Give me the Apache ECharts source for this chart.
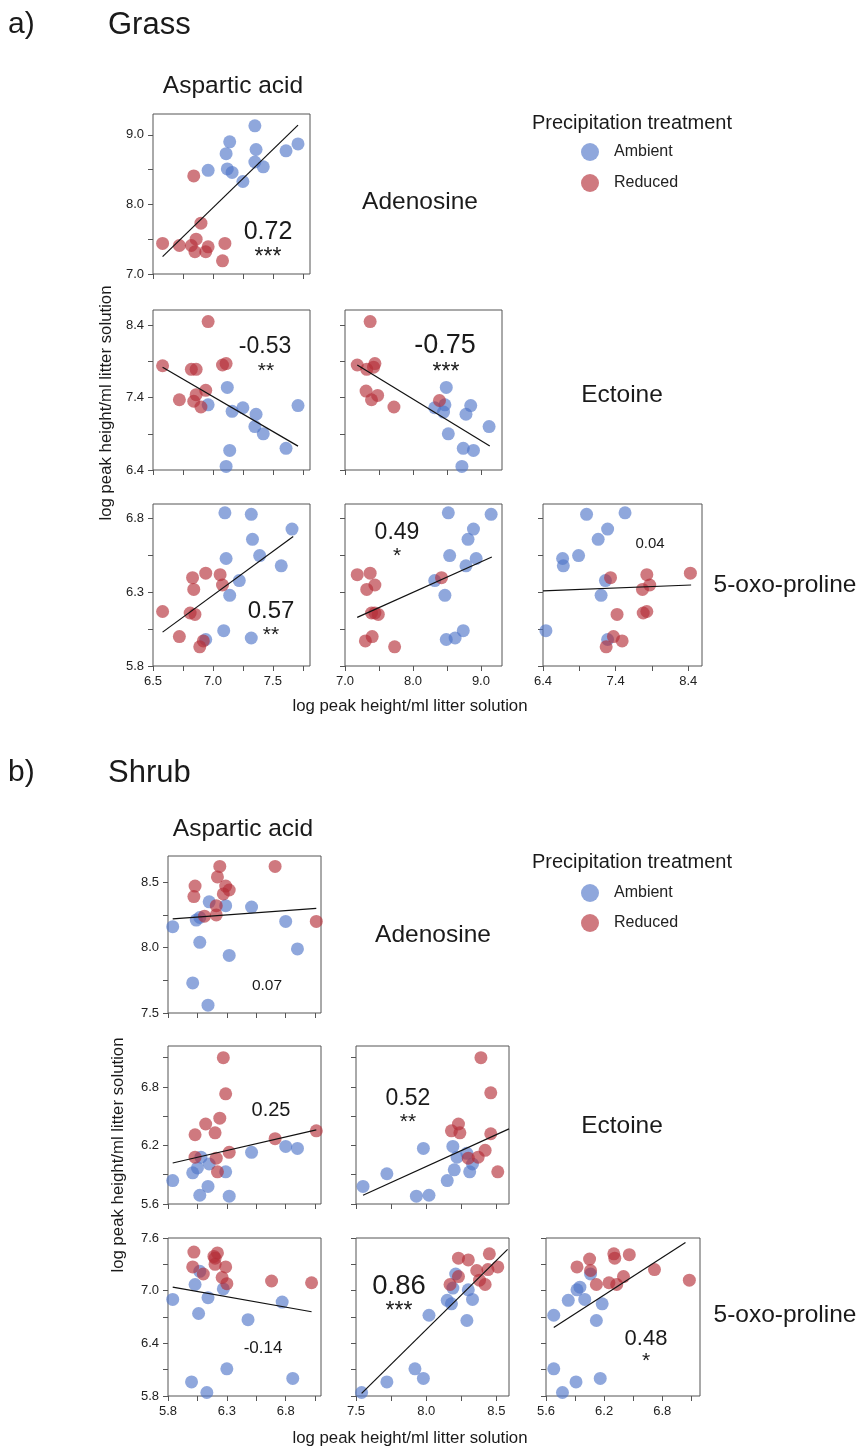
<!DOCTYPE html>
<html>
<head>
<meta charset="utf-8">
<title>Grass / Shrub metabolite correlations</title>
<script src="https://cdn.jsdelivr.net/npm/echarts@6/dist/echarts.min.js"></script>
</head>
<body style="margin:0">
<div id="chart" style="width:859px;height:1447px"></div>
<script>
// ---------- data: [x, y] per sample ----------
// Grass
var gAspAde_amb = [[7.35,9.13],[7.14,8.90],[7.11,8.73],[7.36,8.79],[7.61,8.77],[7.71,8.87],[6.96,8.49],[7.12,8.51],[7.16,8.46],[7.35,8.61],[7.42,8.54],[7.25,8.33]];
var gAspAde_red = [[6.84,8.41],[6.90,7.73],[6.58,7.44],[6.72,7.41],[6.82,7.41],[6.86,7.50],[6.85,7.32],[6.94,7.32],[6.96,7.39],[7.10,7.44],[7.08,7.19]];
var gAspEct_amb = [[6.96,7.30],[7.12,7.54],[7.16,7.21],[7.25,7.26],[7.36,7.17],[7.35,7.00],[7.42,6.90],[7.71,7.29],[7.61,6.70],[7.14,6.67],[7.11,6.45]];
var gAspEct_red = [[6.96,8.45],[6.58,7.84],[6.82,7.79],[6.86,7.79],[7.08,7.85],[7.11,7.87],[6.72,7.37],[6.84,7.35],[6.86,7.44],[6.94,7.50],[6.90,7.27]];
var gAdeEct_amb = [[8.49,7.54],[8.32,7.26],[8.47,7.30],[8.45,7.20],[8.85,7.29],[8.78,7.17],[9.12,7.00],[8.52,6.90],[8.74,6.70],[8.89,6.67],[8.72,6.45]];
var gAdeEct_red = [[7.37,8.45],[7.18,7.85],[7.32,7.79],[7.42,7.82],[7.44,7.87],[7.31,7.49],[7.39,7.37],[7.48,7.43],[7.72,7.27],[8.39,7.36]];
var gAspOxo_amb = [[7.10,6.84],[7.32,6.83],[7.66,6.73],[7.33,6.66],[7.39,6.55],[7.11,6.53],[7.57,6.48],[7.22,6.38],[7.14,6.28],[7.09,6.04],[7.32,5.99],[6.94,5.98]];
var gAspOxo_red = [[6.94,6.43],[6.83,6.40],[7.06,6.42],[7.08,6.35],[6.84,6.32],[6.58,6.17],[6.81,6.16],[6.85,6.15],[6.72,6.00],[6.92,5.97],[6.89,5.93]];
var gAdeOxo_amb = [[8.52,6.84],[9.15,6.83],[8.89,6.73],[8.81,6.66],[8.93,6.53],[8.54,6.55],[8.78,6.48],[8.32,6.38],[8.47,6.28],[8.74,6.04],[8.62,5.99],[8.49,5.98]];
var gAdeOxo_red = [[8.42,6.40],[7.18,6.42],[7.37,6.43],[7.44,6.35],[7.32,6.32],[7.39,6.16],[7.44,6.16],[7.49,6.15],[7.40,6.00],[7.30,5.97],[7.73,5.93]];
var gEctOxo_amb = [[7.00,6.83],[7.53,6.84],[7.29,6.73],[7.16,6.66],[6.89,6.55],[6.67,6.53],[6.68,6.48],[7.26,6.38],[7.20,6.28],[6.44,6.04],[7.29,5.98]];
var gEctOxo_red = [[7.33,6.40],[7.83,6.42],[8.43,6.43],[7.87,6.35],[7.77,6.32],[7.83,6.17],[7.78,6.16],[7.42,6.15],[7.37,6.00],[7.49,5.97],[7.27,5.93]];
// Shrub
var sAspAde_amb = [[6.15,8.35],[6.29,8.32],[6.51,8.31],[6.04,8.21],[6.07,8.23],[5.84,8.16],[6.80,8.20],[6.07,8.04],[6.90,7.99],[6.32,7.94],[6.01,7.73],[6.14,7.56]];
var sAspAde_red = [[6.24,8.62],[6.71,8.62],[6.03,8.47],[6.22,8.54],[6.02,8.39],[6.29,8.47],[6.32,8.44],[6.27,8.41],[6.21,8.32],[6.21,8.25],[6.11,8.24],[7.06,8.20]];
var sAspEct_amb = [[6.51,6.13],[6.80,6.19],[6.90,6.17],[6.08,6.08],[6.15,6.01],[6.05,5.97],[6.01,5.92],[6.29,5.93],[5.84,5.84],[6.14,5.78],[6.07,5.69],[6.32,5.68]];
var sAspEct_red = [[6.27,7.10],[6.29,6.73],[6.24,6.48],[6.12,6.42],[6.20,6.33],[6.03,6.31],[6.71,6.27],[7.06,6.35],[6.32,6.13],[6.21,6.07],[6.03,6.08],[6.22,5.93]];
var sAdeEct_amb = [[7.98,6.17],[8.19,6.19],[8.29,6.12],[8.22,6.08],[8.33,6.01],[8.20,5.95],[8.31,5.93],[7.72,5.91],[8.15,5.84],[7.55,5.78],[7.93,5.68],[8.02,5.69]];
var sAdeEct_red = [[8.39,7.10],[8.46,6.74],[8.23,6.42],[8.18,6.35],[8.24,6.33],[8.46,6.32],[8.42,6.15],[8.37,6.08],[8.30,6.07],[8.51,5.93]];
var sAspOxo_amb = [[6.07,7.22],[6.03,7.07],[6.27,7.02],[5.84,6.90],[6.14,6.92],[6.77,6.87],[6.06,6.74],[6.48,6.67],[6.30,6.11],[6.00,5.96],[6.86,6.00],[6.13,5.84]];
var sAspOxo_red = [[6.02,7.44],[6.22,7.43],[6.19,7.39],[6.20,7.37],[6.01,7.27],[6.20,7.30],[6.29,7.27],[6.10,7.19],[6.26,7.15],[6.30,7.08],[6.68,7.11],[7.02,7.09]];
var sAdeOxo_amb = [[8.21,7.19],[8.19,7.03],[8.30,7.01],[8.15,6.89],[8.18,6.85],[8.33,6.90],[8.29,6.66],[8.02,6.72],[7.92,6.11],[7.98,6.00],[7.72,5.96],[7.54,5.84]];
var sAdeOxo_red = [[8.45,7.42],[8.23,7.37],[8.30,7.35],[8.36,7.23],[8.44,7.24],[8.51,7.27],[8.23,7.16],[8.17,7.07],[8.38,7.12],[8.42,7.07]];
var sEctOxo_amb = [[6.06,7.19],[5.95,7.04],[5.92,7.01],[5.83,6.89],[6.00,6.90],[6.18,6.85],[5.68,6.72],[6.12,6.66],[5.68,6.11],[6.16,6.00],[5.91,5.96],[5.77,5.84]];
var sEctOxo_red = [[6.30,7.42],[6.46,7.41],[6.05,7.36],[6.31,7.37],[5.92,7.27],[6.06,7.23],[6.72,7.24],[6.40,7.16],[7.08,7.12],[6.25,7.09],[6.33,7.07],[6.12,7.07]];

// fitted lines (end points)
var fitGrass = [[[6.58,7.25],[7.71,9.14]], [[6.58,7.82],[7.71,6.73]], [[7.18,7.85],[9.13,6.73]],
                [[6.58,6.03],[7.67,6.68]], [[7.18,6.13],[9.16,6.54]], [[6.40,6.31],[8.44,6.35]]];
var fitShrub = [[[5.84,8.22],[7.06,8.30]], [[5.84,6.02],[7.06,6.36]], [[7.55,5.69],[8.59,6.37]],
                [[5.84,7.04],[7.02,6.76]], [[7.54,5.83],[8.58,7.47]], [[5.68,6.58],[7.04,7.55]]];

// correlation coefficients and significance
var rGrass = ['0.72', '-0.53', '-0.75', '0.57', '0.49', '0.04'];
var sigGrass = ['***', '**', '***', '**', '*', ''];
var rShrub = ['0.07', '0.25', '0.52', '-0.14', '0.86', '0.48'];
var sigShrub = ['', '', '**', '', '***', '*'];

var variables = ['Aspartic acid', 'Adenosine', 'Ectoine', '5-oxo-proline'];
var groups = ['Ambient', 'Reduced'];

// labelled ticks of each axis
var grassXTicks = [[6.5, 7.0, 7.5], [7.0, 8.0, 9.0], [6.4, 7.4, 8.4]];
var grassYTicks = [[7.0, 8.0, 9.0], [6.4, 7.4, 8.4], [5.8, 6.3, 6.8]];
var shrubXTicks = [[5.8, 6.3, 6.8], [7.5, 8.0, 8.5], [5.6, 6.2, 6.8]];
var shrubYTicks = [[7.5, 8.0, 8.5], [5.6, 6.2, 6.8], [5.8, 6.4, 7.0, 7.6]];

// ---------- layout ----------
var FONT = '"Liberation Sans", Arial, Helvetica, sans-serif';
var BLUE = 'rgba(80,118,200,0.8)';
var RED = 'rgba(180,45,55,0.8)';

var grassX = [{min: 6.5, max: 7.81, step: 0.25}, {min: 7.0, max: 9.31, step: 0.5}, {min: 6.4, max: 8.59, step: 0.5}];
var grassY = [{min: 7.0, max: 9.30, step: 0.5}, {min: 6.4, max: 8.61, step: 0.5}, {min: 5.8, max: 6.90, step: 0.25}];
var shrubX = [{min: 5.8, max: 7.10, step: 0.25}, {min: 7.5, max: 8.59, step: 0.25}, {min: 5.6, max: 7.19, step: 0.3}];
var shrubY = [{min: 7.5, max: 8.70, step: 0.25}, {min: 5.6, max: 7.22, step: 0.3}, {min: 5.8, max: 7.60, step: 0.3}];

var grassCols = [[153, 157], [345, 157], [543, 159]];
var grassRows = [[114, 160], [310, 160], [504, 162]];
var shrubCols = [[168, 153], [356, 153], [546, 154]];
var shrubRows = [[856, 157], [1046, 158], [1238, 158]];

// panel order: (row, col) lower triangle
var cells = [[0, 0], [1, 0], [1, 1], [2, 0], [2, 1], [2, 2]];

var grassPts = [[gAspAde_amb, gAspAde_red], [gAspEct_amb, gAspEct_red], [gAdeEct_amb, gAdeEct_red],
                [gAspOxo_amb, gAspOxo_red], [gAdeOxo_amb, gAdeOxo_red], [gEctOxo_amb, gEctOxo_red]];
var shrubPts = [[sAspAde_amb, sAspAde_red], [sAspEct_amb, sAspEct_red], [sAdeEct_amb, sAdeEct_red],
                [sAspOxo_amb, sAspOxo_red], [sAdeOxo_amb, sAdeOxo_red], [sEctOxo_amb, sEctOxo_red]];

// where the r text goes (px) and its size
var grassRText = [[268, 232, 25], [265, 347, 23], [445, 346, 27], [271, 611, 24], [397, 533, 23], [650, 544, 15]];
var grassStar = [[268, 258, 23], [266, 371, 21], [446, 373, 23], [271, 635, 21], [397, 556, 21], null];
var shrubRText = [[267, 986, 15.5], [271, 1110, 20], [408, 1099, 23], [263, 1348, 17], [399, 1286, 27.5], [646, 1339, 22]];
var shrubStar = [null, null, [408, 1122, 21], null, [399, 1312, 23], [646, 1361, 21]];

var grids = [], xAxes = [], yAxes = [], series = [], graphics = [];

// tick positions every `step` from min, without the extra tick ECharts puts at max
function tickValues(sc) {
  var out = [];
  for (var i = 0; sc.min + i * sc.step <= sc.max + 1e-9; i++) {
    out.push(Math.round((sc.min + i * sc.step) * 1000) / 1000);
  }
  return out;
}

function tickAxis(gi, sc, labels, showLabel) {
  return {
    type: 'value', gridIndex: gi, min: sc.min, max: sc.max, interval: sc.step,
    splitLine: {show: false},
    axisLine: {show: false},
    axisTick: {show: true, length: 5, customValues: tickValues(sc), lineStyle: {color: '#555', width: 1}},
    axisLabel: {
      show: showLabel, color: '#222', fontSize: 13, fontFamily: FONT, margin: 9,
      customValues: labels,
      formatter: function (v) { return v.toFixed(1); }
    }
  };
}

function txt(text, x, y, size, opts) {
  opts = opts || {};
  return {
    type: 'text', x: x, y: y, rotation: opts.rot || 0, silent: true,
    style: {
      text: text, fill: '#1a1a1a', fontSize: size, fontFamily: FONT,
      textAlign: opts.align || 'center', textVerticalAlign: 'middle'
    }
  };
}

function buildBlock(cols, rows, xs, ys, xTicks, yTicks, pts, fits, rs, sigs, rPos, starPos) {
  cells.forEach(function (cell, k) {
    var r = cell[0], c = cell[1];
    var gi = grids.length;
    grids.push({
      left: cols[c][0], top: rows[r][0], width: cols[c][1], height: rows[r][1],
      show: true, borderColor: '#555', borderWidth: 1, backgroundColor: 'transparent',
      containLabel: false, outerBoundsMode: 'none'
    });
    xAxes.push(tickAxis(gi, xs[c], xTicks[c], r === 2));
    yAxes.push(tickAxis(gi, ys[r], yTicks[r], c === 0));
    series.push({
      name: groups[0], type: 'scatter', xAxisIndex: gi, yAxisIndex: gi,
      data: pts[k][0], symbolSize: 13, itemStyle: {color: BLUE}, z: 2, silent: true
    });
    series.push({
      name: groups[1], type: 'scatter', xAxisIndex: gi, yAxisIndex: gi,
      data: pts[k][1], symbolSize: 13, itemStyle: {color: RED}, z: 3, silent: true
    });
    series.push({
      type: 'line', xAxisIndex: gi, yAxisIndex: gi, data: fits[k],
      showSymbol: false, symbol: 'none', lineStyle: {color: '#111', width: 1.2}, z: 4, silent: true
    });
    graphics.push(txt(rs[k], rPos[k][0], rPos[k][1], rPos[k][2]));
    if (sigs[k] && starPos[k]) graphics.push(txt(sigs[k], starPos[k][0], starPos[k][1], starPos[k][2]));
  });
}

buildBlock(grassCols, grassRows, grassX, grassY, grassXTicks, grassYTicks, grassPts, fitGrass, rGrass, sigGrass, grassRText, grassStar);
buildBlock(shrubCols, shrubRows, shrubX, shrubY, shrubXTicks, shrubYTicks, shrubPts, fitShrub, rShrub, sigShrub, shrubRText, shrubStar);

// headings and variable names
graphics.push(txt('a)', 8, 25, 30, {align: 'left'}));
graphics.push(txt('Grass', 108, 25, 31, {align: 'left'}));
graphics.push(txt('b)', 8, 773, 30, {align: 'left'}));
graphics.push(txt('Shrub', 108, 773, 31, {align: 'left'}));

var grassNamePos = [[233, 86], [420, 202], [622, 395], [785, 585]];
var shrubNamePos = [[243, 829], [433, 935], [622, 1126], [785, 1315]];
variables.forEach(function (v, i) {
  graphics.push(txt(v, grassNamePos[i][0], grassNamePos[i][1], 24.5));
  graphics.push(txt(v, shrubNamePos[i][0], shrubNamePos[i][1], 24.5));
});

graphics.push(txt('Precipitation treatment', 632, 123, 20));
graphics.push(txt('Precipitation treatment', 632, 862, 20));

var axisTitle = 'log peak height/ml litter solution';
graphics.push(txt(axisTitle, 410, 706, 16.8));
graphics.push(txt(axisTitle, 410, 1438, 16.8));
graphics.push(txt(axisTitle, 106, 403, 16.8, {rot: Math.PI / 2}));
graphics.push(txt(axisTitle, 118, 1155, 16.8, {rot: Math.PI / 2}));

var legendBase = {
  data: groups, orient: 'vertical', left: 576, icon: 'circle',
  itemWidth: 38, itemHeight: 18, selectedMode: false,
  textStyle: {fontSize: 16, fontFamily: FONT, color: '#222'}
};

var chart = echarts.init(document.getElementById('chart'), null, {renderer: 'canvas'});
var option = {
  backgroundColor: '#fff',
  animation: false,
  legend: [
    Object.assign({}, legendBase, {top: 138, itemGap: 13}),
    Object.assign({}, legendBase, {top: 879, itemGap: 12})
  ],
  grid: grids,
  xAxis: xAxes,
  yAxis: yAxes,
  series: series,
  graphic: {elements: graphics}
};
chart.setOption(option);
</script>
</body>
</html>
